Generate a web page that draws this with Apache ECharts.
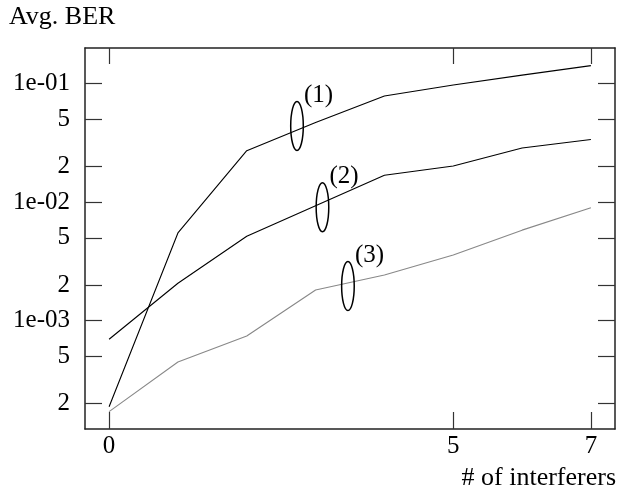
<!DOCTYPE html>
<html>
<head>
<meta charset="utf-8">
<script src="https://cdn.jsdelivr.net/npm/echarts@6/dist/echarts.min.js"></script>
<style>html,body{margin:0;padding:0;background:#fff;}#c{width:621px;height:498px;}</style>
</head>
<body>
<div id="c"></div>
<script>
const xValues = [0, 1, 2, 3, 4, 5, 6, 7];
const series1 = [1.88e-4, 5.5e-3, 0.0272, 0.0471, 0.0787, 0.0975, 0.118, 0.142];
const series2 = [6.97e-4, 2.07e-3, 5.16e-3, 9.34e-3, 0.0169, 0.0202, 0.0287, 0.0338];
const series3 = [1.71e-4, 4.48e-4, 7.43e-4, 1.815e-3, 2.43e-3, 3.58e-3, 5.81e-3, 8.96e-3];
const xTicks = [0, 5, 7];
const yTicks = [2e-4, 5e-4, 1e-3, 2e-3, 5e-3, 1e-2, 2e-2, 5e-2, 1e-1];
const yTickLabels = ['2', '5', '1e-03', '2', '5', '1e-02', '2', '5', '1e-01'];
const annotX = [2.73, 3.10, 3.47];
const annotY = [0.044, 9.07e-3, 1.96e-3];
const annotLabels = ['(1)', '(2)', '(3)'];

const FONT = '"Liberation Serif", "DejaVu Serif", serif';
const FS = 25;
const TFS = 26;
const AXC = '#222';
const TICKC = '#333';

function yLabel(v) {
  for (let i = 0; i < yTicks.length; i++) {
    if (Math.abs(v / yTicks[i] - 1) < 1e-6) return yTickLabels[i];
  }
  return '';
}

const xRange = { min: -0.35, max: 7.35 };
const yRange = { min: 1.22e-4, max: 0.2 };

const chart = echarts.init(document.getElementById('c'), null, { renderer: 'canvas' });
const option = {
  animation: false,
  backgroundColor: '#fff',
  grid: { left: 85, right: 6, top: 48, bottom: 69, containLabel: false },
  xAxis: [
    {
      type: 'value', position: 'bottom', min: xRange.min, max: xRange.max,
      axisLine: { show: true, onZero: false, lineStyle: { color: AXC, width: 1.5 } },
      axisTick: { show: true, inside: true, length: 17, customValues: xTicks, lineStyle: { color: TICKC, width: 1.2 } },
      axisLabel: { show: true, customValues: xTicks, margin: 5, color: '#000', fontFamily: FONT, fontSize: FS },
      splitLine: { show: false }
    },
    {
      type: 'value', position: 'top', min: xRange.min, max: xRange.max,
      axisLine: { show: true, onZero: false, lineStyle: { color: AXC, width: 1.5 } },
      axisTick: { show: true, inside: true, length: 16, customValues: xTicks, lineStyle: { color: TICKC, width: 1.2 } },
      axisLabel: { show: false },
      splitLine: { show: false }
    }
  ],
  yAxis: [
    {
      type: 'log', position: 'left', min: yRange.min, max: yRange.max,
      axisLine: { show: true, onZero: false, lineStyle: { color: AXC, width: 1.5 } },
      axisTick: { show: true, inside: true, length: 17, customValues: yTicks, lineStyle: { color: TICKC, width: 1.2 } },
      axisLabel: { show: true, customValues: yTicks, margin: 15, color: '#000', fontFamily: FONT, fontSize: FS, formatter: yLabel },
      splitLine: { show: false }
    },
    {
      type: 'log', position: 'right', min: yRange.min, max: yRange.max,
      axisLine: { show: true, onZero: false, lineStyle: { color: AXC, width: 1.5 } },
      axisTick: { show: true, inside: true, length: 17, customValues: yTicks, lineStyle: { color: TICKC, width: 1.2 } },
      axisLabel: { show: false },
      splitLine: { show: false }
    }
  ],
  series: [
    { type: 'line', xAxisIndex: 0, yAxisIndex: 0, data: xValues.map((x, i) => [x, series1[i]]), symbol: 'none', lineStyle: { color: '#000', width: 1.1 } },
    { type: 'line', xAxisIndex: 0, yAxisIndex: 0, data: xValues.map((x, i) => [x, series2[i]]), symbol: 'none', lineStyle: { color: '#000', width: 1.1 } },
    { type: 'line', xAxisIndex: 0, yAxisIndex: 0, data: xValues.map((x, i) => [x, series3[i]]), symbol: 'none', lineStyle: { color: '#888', width: 1.1 } }
  ]
};
chart.setOption(option);

// Annotations (ellipses + labels) placed through the chart's own scales
const graphics = [
  { type: 'text', left: 9, top: 4, style: { text: 'Avg. BER', font: TFS + 'px ' + FONT, fill: '#000' } },
  { type: 'text', right: 5, top: 465, style: { text: '# of interferers', font: TFS + 'px ' + FONT, fill: '#000' } }
];
annotX.forEach((x, i) => {
  const p = chart.convertToPixel({ xAxisIndex: 0, yAxisIndex: 0 }, [x, annotY[i]]);
  graphics.push({
    type: 'ellipse', shape: { cx: p[0], cy: p[1], rx: 6.3, ry: 24.5 },
    style: { fill: 'none', stroke: '#000', lineWidth: 1.5 }, z: 10
  });
  graphics.push({
    type: 'text', x: p[0] + 7, y: p[1] - 43,
    style: { text: annotLabels[i], font: FS + 'px ' + FONT, fill: '#000' }, z: 10
  });
});
chart.setOption({ graphic: graphics });
</script>
</body>
</html>
